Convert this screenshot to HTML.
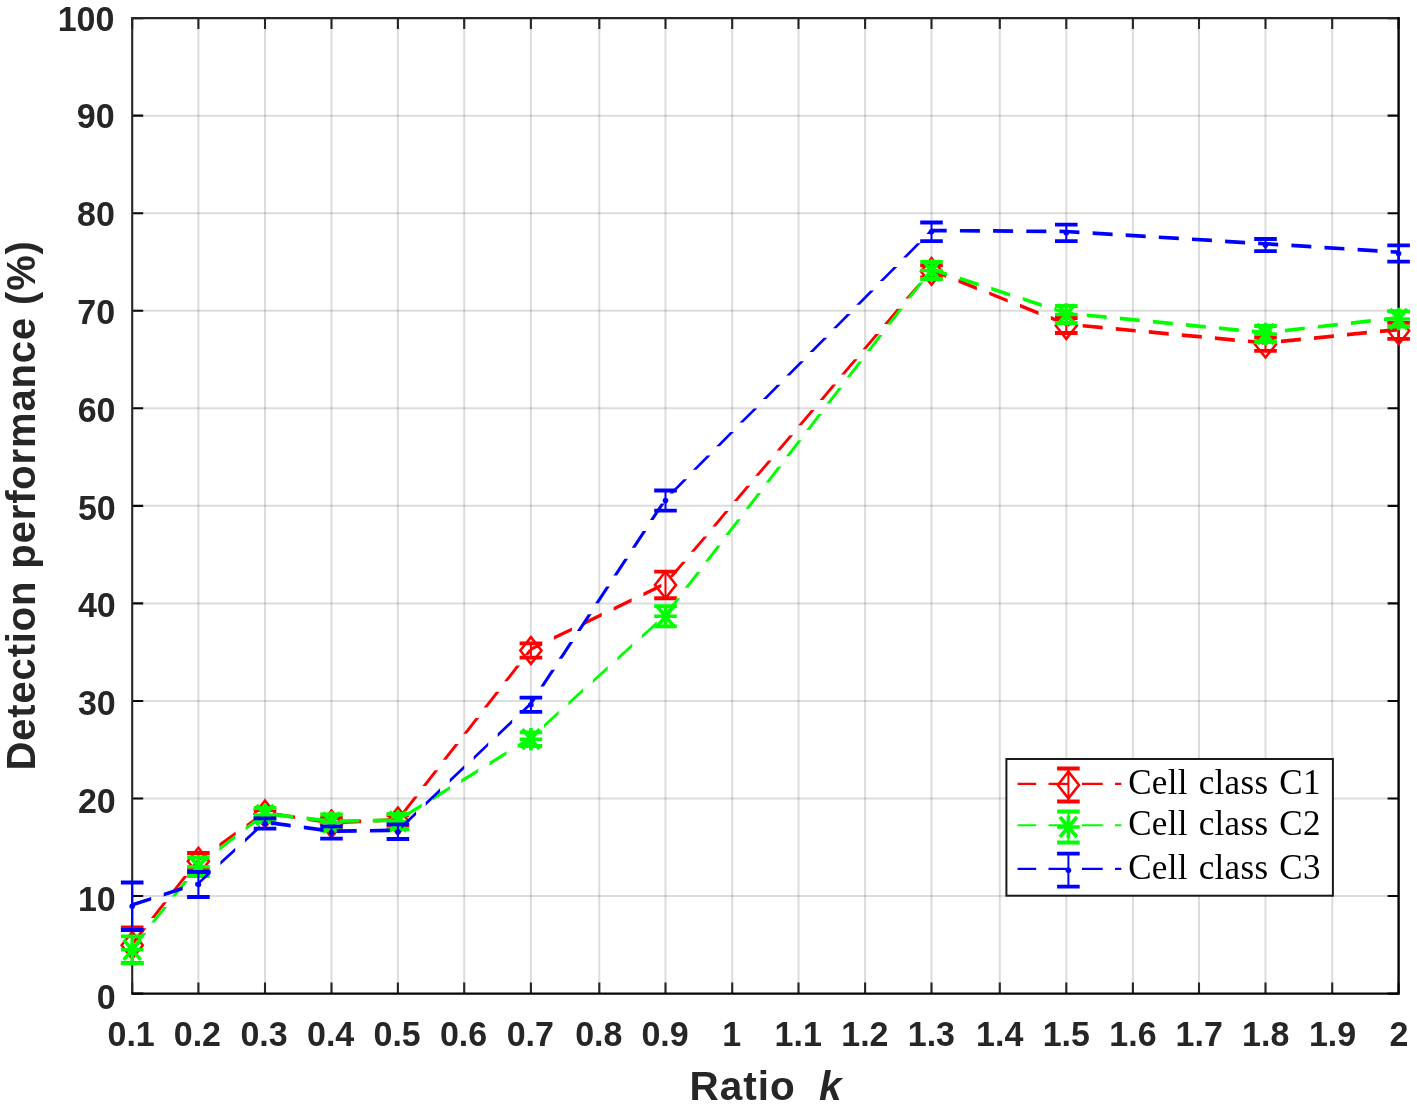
<!DOCTYPE html>
<html><head><meta charset="utf-8"><title>Detection performance vs Ratio k</title>
<style>html,body{margin:0;padding:0;background:#fff;}svg{display:block;}</style></head><body>
<svg width="1417" height="1107" viewBox="0 0 1417 1107">
<rect x="0" y="0" width="1417" height="1107" fill="#ffffff"/>
<path d="M198.40 18.10V993.60M265.00 18.10V993.60M331.50 18.10V993.60M397.90 18.10V993.60M464.20 18.10V993.60M530.90 18.10V993.60M599.30 18.10V993.60M665.50 18.10V993.60M732.20 18.10V993.60M798.50 18.10V993.60M865.10 18.10V993.60M931.50 18.10V993.60M999.80 18.10V993.60M1066.30 18.10V993.60M1132.90 18.10V993.60M1199.00 18.10V993.60M1265.50 18.10V993.60M1332.20 18.10V993.60" stroke="#262626" stroke-opacity="0.16" stroke-width="2" fill="none"/>
<path d="M132.20 896.05H1398.60M132.20 798.50H1398.60M132.20 700.95H1398.60M132.20 603.40H1398.60M132.20 505.85H1398.60M132.20 408.30H1398.60M132.20 310.75H1398.60M132.20 213.20H1398.60M132.20 115.65H1398.60" stroke="#262626" stroke-opacity="0.16" stroke-width="2" fill="none"/>
<path d="M132.20 993.60v-11M132.20 18.10v11M198.40 993.60v-11M198.40 18.10v11M265.00 993.60v-11M265.00 18.10v11M331.50 993.60v-11M331.50 18.10v11M397.90 993.60v-11M397.90 18.10v11M464.20 993.60v-11M464.20 18.10v11M530.90 993.60v-11M530.90 18.10v11M599.30 993.60v-11M599.30 18.10v11M665.50 993.60v-11M665.50 18.10v11M732.20 993.60v-11M732.20 18.10v11M798.50 993.60v-11M798.50 18.10v11M865.10 993.60v-11M865.10 18.10v11M931.50 993.60v-11M931.50 18.10v11M999.80 993.60v-11M999.80 18.10v11M1066.30 993.60v-11M1066.30 18.10v11M1132.90 993.60v-11M1132.90 18.10v11M1199.00 993.60v-11M1199.00 18.10v11M1265.50 993.60v-11M1265.50 18.10v11M1332.20 993.60v-11M1332.20 18.10v11M1398.60 993.60v-11M1398.60 18.10v11" stroke="#262626" stroke-width="2.1" fill="none"/>
<path d="M132.20 993.60h11M1398.60 993.60h-11M132.20 896.05h11M1398.60 896.05h-11M132.20 798.50h11M1398.60 798.50h-11M132.20 700.95h11M1398.60 700.95h-11M132.20 603.40h11M1398.60 603.40h-11M132.20 505.85h11M1398.60 505.85h-11M132.20 408.30h11M1398.60 408.30h-11M132.20 310.75h11M1398.60 310.75h-11M132.20 213.20h11M1398.60 213.20h-11M132.20 115.65h11M1398.60 115.65h-11M132.20 18.10h11M1398.60 18.10h-11" stroke="#080808" stroke-width="2.1" fill="none"/>
<path d="M132.20 993.60V18.10H1398.60" stroke="#262626" stroke-width="2.1" fill="none"/>
<path d="M131.20 993.60H1398.60V17.10" stroke="#050505" stroke-width="2.4" fill="none"/>
<g font-family="'Liberation Sans', Arial, Helvetica, sans-serif" font-weight="bold" font-size="34" fill="#262626">
<text transform="translate(131.12 1046) scale(1 1.045)" text-anchor="middle">0.1</text>
<text transform="translate(197.40 1046) scale(1 1.045)" text-anchor="middle">0.2</text>
<text transform="translate(264.08 1046) scale(1 1.045)" text-anchor="middle">0.3</text>
<text transform="translate(330.66 1046) scale(1 1.045)" text-anchor="middle">0.4</text>
<text transform="translate(397.13 1046) scale(1 1.045)" text-anchor="middle">0.5</text>
<text transform="translate(463.51 1046) scale(1 1.045)" text-anchor="middle">0.6</text>
<text transform="translate(530.29 1046) scale(1 1.045)" text-anchor="middle">0.7</text>
<text transform="translate(598.77 1046) scale(1 1.045)" text-anchor="middle">0.8</text>
<text transform="translate(665.04 1046) scale(1 1.045)" text-anchor="middle">0.9</text>
<text transform="translate(731.82 1046) scale(1 1.045)" text-anchor="middle">1</text>
<text transform="translate(798.20 1046) scale(1 1.045)" text-anchor="middle">1.1</text>
<text transform="translate(864.88 1046) scale(1 1.045)" text-anchor="middle">1.2</text>
<text transform="translate(931.36 1046) scale(1 1.045)" text-anchor="middle">1.3</text>
<text transform="translate(999.73 1046) scale(1 1.045)" text-anchor="middle">1.4</text>
<text transform="translate(1066.31 1046) scale(1 1.045)" text-anchor="middle">1.5</text>
<text transform="translate(1132.99 1046) scale(1 1.045)" text-anchor="middle">1.6</text>
<text transform="translate(1199.17 1046) scale(1 1.045)" text-anchor="middle">1.7</text>
<text transform="translate(1265.74 1046) scale(1 1.045)" text-anchor="middle">1.8</text>
<text transform="translate(1332.52 1046) scale(1 1.045)" text-anchor="middle">1.9</text>
<text transform="translate(1399.00 1046) scale(1 1.045)" text-anchor="middle">2</text>
<text transform="translate(115.70 1008.50) scale(1 1.045)" text-anchor="end">0</text>
<text transform="translate(115.70 910.72) scale(1 1.045)" text-anchor="end">10</text>
<text transform="translate(115.70 812.94) scale(1 1.045)" text-anchor="end">20</text>
<text transform="translate(115.70 715.16) scale(1 1.045)" text-anchor="end">30</text>
<text transform="translate(115.70 617.38) scale(1 1.045)" text-anchor="end">40</text>
<text transform="translate(115.70 519.60) scale(1 1.045)" text-anchor="end">50</text>
<text transform="translate(115.44 421.82) scale(1 1.045)" text-anchor="end">60</text>
<text transform="translate(115.18 324.04) scale(1 1.045)" text-anchor="end">70</text>
<text transform="translate(114.92 226.26) scale(1 1.045)" text-anchor="end">80</text>
<text transform="translate(114.66 128.48) scale(1 1.045)" text-anchor="end">90</text>
<text transform="translate(114.40 30.70) scale(1 1.045)" text-anchor="end">100</text>
</g>
<text x="689.5" y="1100" font-family="'Liberation Sans', Arial, Helvetica, sans-serif" font-weight="bold" font-size="40.5" letter-spacing="1" fill="#262626">Ratio</text>
<text x="819" y="1100" font-family="'Liberation Sans', Arial, Helvetica, sans-serif" font-weight="bold" font-style="italic" font-size="40.5" fill="#262626">k</text>
<text transform="translate(35.3 770.5) rotate(-90)" font-family="'Liberation Sans', Arial, Helvetica, sans-serif" font-weight="bold" font-size="40" letter-spacing="0.85" fill="#262626">Detection performance (%)</text>
<path d="M130.3 944.0L142.7 928.3L146.4 928.3L134.0 944.0ZM150.9 917.9L163.2 902.2L166.9 902.2L154.6 917.9ZM171.4 891.8L183.8 876.1L187.5 876.1L175.1 891.8ZM191.9 865.8L196.6 859.9L200.2 859.9L195.6 865.8ZM198.4 858.1L208.6 850.8L208.6 854.5L198.4 861.8ZM219.4 843.2L235.7 831.6L235.7 835.3L219.4 846.9ZM246.5 824.0L262.8 812.4L262.8 816.1L246.5 827.7ZM275.4 812.4L295.1 815.4L295.1 819.1L275.4 816.1ZM308.2 817.3L328.0 820.3L328.0 824.0L308.2 821.0ZM341.1 820.4L361.1 819.5L361.1 823.2L341.1 824.1ZM374.3 818.9L394.2 818.0L394.2 821.7L374.3 822.6ZM401.9 812.2L414.2 796.4L417.9 796.4L405.6 812.2ZM422.3 786.0L434.6 770.2L438.3 770.2L426.0 786.0ZM442.7 759.8L455.0 744.1L458.7 744.1L446.4 759.8ZM463.2 733.7L475.5 717.9L479.2 717.9L466.9 733.7ZM483.6 707.5L495.9 691.7L499.6 691.7L487.3 707.5ZM504.0 681.3L516.3 665.6L520.0 665.6L507.7 681.3ZM524.4 655.2L529.0 649.2L532.8 649.2L528.1 655.2ZM530.9 647.4L542.1 641.9L542.1 645.6L530.9 651.1ZM553.9 636.1L571.9 627.4L571.9 631.1L553.9 639.8ZM583.8 621.6L601.7 612.8L601.7 616.5L583.8 625.3ZM613.6 607.0L631.6 598.3L631.6 602.0L613.6 610.7ZM643.4 592.5L661.4 583.7L661.4 587.4L643.4 596.2ZM669.2 577.0L682.2 561.8L685.9 561.8L672.9 577.0ZM690.7 551.7L703.7 536.5L707.4 536.5L694.4 551.7ZM712.2 526.4L725.1 511.1L728.8 511.1L715.9 526.4ZM733.7 501.1L746.6 485.8L750.3 485.8L737.4 501.1ZM755.1 475.8L768.1 460.5L771.8 460.5L758.8 475.8ZM776.6 450.5L789.5 435.2L793.2 435.2L780.3 450.5ZM798.1 425.2L811.0 409.9L814.7 409.9L801.8 425.2ZM819.6 399.9L832.5 384.6L836.2 384.6L823.3 399.9ZM841.0 374.5L854.0 359.3L857.7 359.3L844.7 374.5ZM862.5 349.2L875.4 334.0L879.1 334.0L866.2 349.2ZM884.0 323.9L896.9 308.7L900.6 308.7L887.7 323.9ZM905.4 298.6L918.4 283.4L922.1 283.4L909.1 298.6ZM926.9 273.3L929.6 270.1L933.4 270.1L930.6 273.3ZM931.5 268.2L946.1 274.1L946.1 277.8L931.5 271.9ZM958.4 279.0L976.9 286.5L976.9 290.2L958.4 282.7ZM989.2 291.4L1007.7 298.9L1007.7 302.6L989.2 295.1ZM1020.0 303.8L1038.5 311.2L1038.5 314.9L1020.0 307.5ZM1050.8 316.1L1066.3 322.3L1066.3 326.1L1050.8 319.8ZM1066.3 322.3L1069.6 322.7L1069.6 326.4L1066.3 326.1ZM1082.7 323.9L1102.6 325.8L1102.6 329.5L1082.7 327.6ZM1115.8 327.0L1135.7 328.9L1135.7 332.6L1115.8 330.7ZM1148.8 330.1L1168.7 332.0L1168.7 335.7L1148.8 333.8ZM1181.8 333.2L1201.8 335.1L1201.8 338.8L1181.8 336.9ZM1214.9 336.3L1234.8 338.2L1234.8 341.9L1214.9 340.0ZM1247.9 339.4L1265.5 341.0L1265.5 344.8L1247.9 343.1ZM1265.5 341.0L1267.8 340.8L1267.8 344.5L1265.5 344.8ZM1281.0 339.5L1300.9 337.5L1300.9 341.2L1281.0 343.2ZM1314.0 336.2L1333.9 334.2L1333.9 337.9L1314.0 339.9ZM1347.0 332.8L1366.9 330.8L1366.9 334.5L1347.0 336.5ZM1380.0 329.5L1398.6 327.6L1398.6 331.4L1380.0 333.2Z" fill="#ff0000"/>
<path d="M132.20 927.50V963.10M198.40 853.00V869.40M265.00 810.00V818.00M331.50 818.00V830.00M397.90 815.00V827.00M530.90 643.35V657.65M665.50 571.55V598.25M931.50 265.40V277.40M1066.30 318.00V333.00M1265.50 337.50V350.90M1398.60 322.80V338.80" stroke="#ff0000" stroke-width="2.0" fill="none"/>
<path d="M120.90 927.50h22.60M120.90 963.10h22.60M187.10 853.00h22.60M187.10 869.40h22.60M253.70 810.00h22.60M253.70 818.00h22.60M320.20 818.00h22.60M320.20 830.00h22.60M386.60 815.00h22.60M386.60 827.00h22.60M519.60 643.35h22.60M519.60 657.65h22.60M654.20 571.55h22.60M654.20 598.25h22.60M920.20 265.40h22.60M920.20 277.40h22.60M1055.00 318.00h22.60M1055.00 333.00h22.60M1254.20 337.50h22.60M1254.20 350.90h22.60M1387.30 322.80h22.60M1387.30 338.80h22.60" stroke="#ff0000" stroke-width="3.8" fill="none"/>
<path d="M132.20 931.90L142.80 945.30L132.20 958.70L121.60 945.30Z" fill="none" stroke="#ff0000" stroke-width="2.5" stroke-miterlimit="10"/>
<path d="M198.40 847.80L209.00 861.20L198.40 874.60L187.80 861.20Z" fill="none" stroke="#ff0000" stroke-width="2.5" stroke-miterlimit="10"/>
<path d="M265.00 800.60L275.60 814.00L265.00 827.40L254.40 814.00Z" fill="none" stroke="#ff0000" stroke-width="2.5" stroke-miterlimit="10"/>
<path d="M331.50 810.60L342.10 824.00L331.50 837.40L320.90 824.00Z" fill="none" stroke="#ff0000" stroke-width="2.5" stroke-miterlimit="10"/>
<path d="M397.90 807.60L408.50 821.00L397.90 834.40L387.30 821.00Z" fill="none" stroke="#ff0000" stroke-width="2.5" stroke-miterlimit="10"/>
<path d="M530.90 637.10L541.50 650.50L530.90 663.90L520.30 650.50Z" fill="none" stroke="#ff0000" stroke-width="2.5" stroke-miterlimit="10"/>
<path d="M665.50 571.50L676.10 584.90L665.50 598.30L654.90 584.90Z" fill="none" stroke="#ff0000" stroke-width="2.5" stroke-miterlimit="10"/>
<path d="M931.50 258.00L942.10 271.40L931.50 284.80L920.90 271.40Z" fill="none" stroke="#ff0000" stroke-width="2.5" stroke-miterlimit="10"/>
<path d="M1066.30 312.10L1076.90 325.50L1066.30 338.90L1055.70 325.50Z" fill="none" stroke="#ff0000" stroke-width="2.5" stroke-miterlimit="10"/>
<path d="M1265.50 330.80L1276.10 344.20L1265.50 357.60L1254.90 344.20Z" fill="none" stroke="#ff0000" stroke-width="2.5" stroke-miterlimit="10"/>
<path d="M1398.60 317.40L1409.20 330.80L1398.60 344.20L1388.00 330.80Z" fill="none" stroke="#ff0000" stroke-width="2.5" stroke-miterlimit="10"/>
<path d="M130.3 948.5L142.8 932.9L146.5 932.9L134.0 948.5ZM151.0 922.5L163.5 906.9L167.2 906.9L154.7 922.5ZM171.7 896.6L184.2 880.9L187.9 880.9L175.4 896.6ZM192.4 870.6L196.6 865.4L200.2 865.4L196.1 870.6ZM198.4 863.6L208.9 855.4L208.9 859.1L198.4 867.3ZM219.3 847.3L235.1 835.0L235.1 838.7L219.3 851.0ZM245.6 826.9L261.4 814.7L261.4 818.4L245.6 830.6ZM273.5 812.8L293.4 815.1L293.4 818.8L273.5 816.5ZM306.5 816.5L326.4 818.8L326.4 822.5L306.5 820.2ZM339.5 819.2L359.5 818.9L359.5 822.6L339.5 822.9ZM372.7 818.7L392.7 818.4L392.7 822.1L372.7 822.4ZM404.7 814.1L421.7 803.6L421.7 807.3L404.7 817.8ZM432.9 796.7L449.9 786.1L449.9 789.8L432.9 800.4ZM461.2 779.2L478.2 768.7L478.2 772.4L461.2 782.9ZM489.4 761.7L506.4 751.2L506.4 754.9L489.4 765.4ZM517.6 744.3L530.9 736.1L530.9 739.8L517.6 748.0ZM530.9 736.1L534.1 733.1L534.1 736.8L530.9 739.8ZM543.9 724.2L558.6 710.7L558.6 714.4L543.9 727.9ZM568.4 701.8L583.1 688.3L583.1 692.0L568.4 705.5ZM592.9 679.5L607.7 666.0L607.7 669.7L592.9 683.2ZM617.4 657.1L632.2 643.6L632.2 647.3L617.4 660.8ZM641.9 634.7L656.7 621.2L656.7 624.9L641.9 638.4ZM664.4 614.0L676.6 598.2L680.3 598.2L668.1 614.0ZM684.6 587.7L696.8 571.9L700.5 571.9L688.3 587.7ZM704.9 561.4L717.1 545.5L720.8 545.5L708.6 561.4ZM725.1 535.1L737.3 519.2L741.0 519.2L728.8 535.1ZM745.4 508.8L757.5 492.9L761.2 492.9L749.1 508.8ZM765.6 482.5L777.8 466.6L781.5 466.6L769.3 482.5ZM785.8 456.2L798.0 440.3L801.7 440.3L789.5 456.2ZM806.1 429.9L818.3 414.0L822.0 414.0L809.8 429.9ZM826.3 403.6L838.5 387.7L842.2 387.7L830.0 403.6ZM846.5 377.3L858.7 361.4L862.4 361.4L850.2 377.3ZM866.8 350.9L879.0 335.1L882.7 335.1L870.5 350.9ZM887.0 324.6L899.2 308.8L902.9 308.8L890.7 324.6ZM907.2 298.3L919.4 282.5L923.1 282.5L910.9 298.3ZM927.5 272.0L929.6 269.2L933.4 269.2L931.2 272.0ZM931.5 267.3L947.1 272.5L947.1 276.2L931.5 271.1ZM959.7 276.5L978.7 282.7L978.7 286.4L959.7 280.2ZM991.2 286.8L1010.2 293.0L1010.2 296.7L991.2 290.5ZM1022.8 297.1L1041.8 303.3L1041.8 307.0L1022.8 300.8ZM1054.3 307.4L1066.3 311.3L1066.3 315.1L1054.3 311.1ZM1066.3 311.3L1073.7 312.1L1073.7 315.8L1066.3 315.1ZM1086.8 313.4L1106.7 315.3L1106.7 319.0L1086.8 317.1ZM1119.8 316.6L1139.7 318.5L1139.7 322.2L1119.8 320.3ZM1152.9 319.8L1172.8 321.8L1172.8 325.5L1152.9 323.5ZM1185.9 323.1L1205.8 325.0L1205.8 328.7L1185.9 326.8ZM1218.9 326.3L1238.8 328.2L1238.8 331.9L1218.9 330.0ZM1252.0 329.5L1265.5 330.8L1265.5 334.6L1252.0 333.2ZM1265.5 330.8L1271.8 330.1L1271.8 333.8L1265.5 334.6ZM1285.0 328.7L1304.8 326.4L1304.8 330.1L1285.0 332.4ZM1317.9 324.9L1337.8 322.7L1337.8 326.4L1317.9 328.6ZM1350.9 321.2L1370.8 319.0L1370.8 322.7L1350.9 324.9ZM1383.9 317.5L1398.6 315.8L1398.6 319.6L1383.9 321.2Z" fill="#00ff00"/>
<path d="M132.20 936.35V963.25M198.40 857.40V876.00M265.00 808.00V822.00M331.50 814.50V830.50M397.90 814.00V829.00M530.90 732.40V746.00M665.50 606.20V626.40M931.50 262.00V279.00M1066.30 306.00V323.00M1265.50 326.00V342.00M1398.60 311.40V326.60" stroke="#00ff00" stroke-width="2.0" fill="none"/>
<path d="M120.90 936.35h22.60M120.90 963.25h22.60M187.10 857.40h22.60M187.10 876.00h22.60M253.70 808.00h22.60M253.70 822.00h22.60M320.20 814.50h22.60M320.20 830.50h22.60M386.60 814.00h22.60M386.60 829.00h22.60M519.60 732.40h22.60M519.60 746.00h22.60M654.20 606.20h22.60M654.20 626.40h22.60M920.20 262.00h22.60M920.20 279.00h22.60M1055.00 306.00h22.60M1055.00 323.00h22.60M1254.20 326.00h22.60M1254.20 342.00h22.60M1387.30 311.40h22.60M1387.30 326.60h22.60" stroke="#00ff00" stroke-width="3.8" fill="none"/>
<path d="M120.90 949.80h22.6M132.20 938.50v22.6M123.70 939.80l17.00 20.00M123.70 959.80l17.00 -20.00" fill="none" stroke="#00ff00" stroke-width="3.6"/>
<path d="M187.10 866.70h22.6M198.40 855.40v22.6M189.90 856.70l17.00 20.00M189.90 876.70l17.00 -20.00" fill="none" stroke="#00ff00" stroke-width="3.6"/>
<path d="M253.70 815.00h22.6M265.00 803.70v22.6M256.50 805.00l17.00 20.00M256.50 825.00l17.00 -20.00" fill="none" stroke="#00ff00" stroke-width="3.6"/>
<path d="M320.20 822.50h22.6M331.50 811.20v22.6M323.00 812.50l17.00 20.00M323.00 832.50l17.00 -20.00" fill="none" stroke="#00ff00" stroke-width="3.6"/>
<path d="M386.60 821.50h22.6M397.90 810.20v22.6M389.40 811.50l17.00 20.00M389.40 831.50l17.00 -20.00" fill="none" stroke="#00ff00" stroke-width="3.6"/>
<path d="M519.60 739.20h22.6M530.90 727.90v22.6M522.40 729.20l17.00 20.00M522.40 749.20l17.00 -20.00" fill="none" stroke="#00ff00" stroke-width="3.6"/>
<path d="M654.20 616.30h22.6M665.50 605.00v22.6M657.00 606.30l17.00 20.00M657.00 626.30l17.00 -20.00" fill="none" stroke="#00ff00" stroke-width="3.6"/>
<path d="M920.20 270.50h22.6M931.50 259.20v22.6M923.00 260.50l17.00 20.00M923.00 280.50l17.00 -20.00" fill="none" stroke="#00ff00" stroke-width="3.6"/>
<path d="M1055.00 314.50h22.6M1066.30 303.20v22.6M1057.80 304.50l17.00 20.00M1057.80 324.50l17.00 -20.00" fill="none" stroke="#00ff00" stroke-width="3.6"/>
<path d="M1254.20 334.00h22.6M1265.50 322.70v22.6M1257.00 324.00l17.00 20.00M1257.00 344.00l17.00 -20.00" fill="none" stroke="#00ff00" stroke-width="3.6"/>
<path d="M1387.30 319.00h22.6M1398.60 307.70v22.6M1390.10 309.00l17.00 20.00M1390.10 329.00l17.00 -20.00" fill="none" stroke="#00ff00" stroke-width="3.6"/>
<path d="M132.2 903.1L151.2 896.9L151.2 900.6L132.2 906.8ZM163.7 892.7L182.7 886.5L182.7 890.2L163.7 896.4ZM195.3 882.4L198.4 881.4L198.4 885.1L195.3 886.1ZM198.4 881.4L210.7 870.1L210.7 873.8L198.4 885.1ZM220.4 861.2L235.2 847.7L235.2 851.4L220.4 864.9ZM244.9 838.7L259.7 825.2L259.7 828.9L244.9 842.4ZM270.9 821.1L290.7 823.8L290.7 827.5L270.9 824.8ZM303.8 825.6L323.6 828.3L323.6 832.0L303.8 829.3ZM336.7 829.3L356.7 829.0L356.7 832.7L336.7 833.0ZM369.9 828.9L389.9 828.6L389.9 832.3L369.9 832.6ZM401.7 825.0L416.1 811.2L416.1 814.9L401.7 828.7ZM425.7 802.0L440.1 788.2L440.1 791.9L425.7 805.7ZM449.7 779.1L464.2 765.3L464.2 769.0L449.7 782.8ZM473.7 756.2L488.2 742.4L488.2 746.1L473.7 759.9ZM497.7 733.3L512.2 719.5L512.2 723.2L497.7 737.0ZM521.7 710.4L530.9 701.6L530.9 705.4L521.7 714.1ZM529.0 703.5L533.1 697.4L536.8 697.4L532.8 703.5ZM540.3 686.4L551.3 669.7L555.0 669.7L544.0 686.4ZM558.6 658.7L569.6 642.0L573.3 642.0L562.3 658.7ZM576.9 630.9L587.9 614.2L591.6 614.2L580.6 630.9ZM595.1 603.2L606.1 586.5L609.8 586.5L598.8 603.2ZM613.4 575.5L624.4 558.8L628.1 558.8L617.1 575.5ZM631.7 547.8L642.7 531.1L646.4 531.1L635.4 547.8ZM649.9 520.1L660.9 503.4L664.6 503.4L653.6 520.1ZM669.5 493.4L683.5 479.2L687.2 479.2L673.2 493.4ZM692.8 469.8L706.9 455.6L710.6 455.6L696.5 469.8ZM716.2 446.2L730.2 432.0L733.9 432.0L719.9 446.2ZM739.5 422.6L753.6 408.4L757.3 408.4L743.2 422.6ZM762.9 399.1L776.9 384.8L780.6 384.8L766.6 399.1ZM786.2 375.5L800.3 361.2L804.0 361.2L789.9 375.5ZM809.5 351.9L823.6 337.7L827.3 337.7L813.2 351.9ZM832.9 328.3L847.0 314.1L850.7 314.1L836.6 328.3ZM856.2 304.7L870.3 290.5L874.0 290.5L859.9 304.7ZM879.6 281.1L893.6 266.9L897.3 266.9L883.3 281.1ZM902.9 257.5L917.0 243.3L920.7 243.3L906.6 257.5ZM926.3 233.9L929.6 230.5L933.4 230.5L930.0 233.9ZM931.5 228.7L946.7 228.8L946.7 232.5L931.5 232.3ZM959.9 228.9L979.9 229.0L979.9 232.7L959.9 232.6ZM993.1 229.1L1013.1 229.3L1013.1 233.0L993.1 232.8ZM1026.3 229.4L1046.3 229.5L1046.3 233.2L1026.3 233.1ZM1059.5 229.6L1066.3 229.7L1066.3 233.3L1059.5 233.3ZM1066.3 229.7L1079.4 230.5L1079.4 234.2L1066.3 233.3ZM1092.6 231.3L1112.6 232.5L1112.6 236.2L1092.6 235.0ZM1125.7 233.3L1145.7 234.6L1145.7 238.3L1125.7 237.0ZM1158.8 235.4L1178.8 236.6L1178.8 240.3L1158.8 239.1ZM1192.0 237.4L1211.9 238.6L1211.9 242.3L1192.0 241.1ZM1225.1 239.5L1245.1 240.7L1245.1 244.4L1225.1 243.2ZM1258.2 241.5L1265.5 241.9L1265.5 245.6L1258.2 245.2ZM1265.5 241.9L1278.2 242.8L1278.2 246.5L1265.5 245.6ZM1291.4 243.6L1311.3 244.8L1311.3 248.5L1291.4 247.3ZM1324.5 245.7L1344.4 246.9L1344.4 250.6L1324.5 249.4ZM1357.6 247.8L1377.6 249.0L1377.6 252.7L1357.6 251.5ZM1390.7 249.9L1398.6 250.3L1398.6 254.0L1390.7 253.6Z" fill="#0000ff"/>
<path d="M132.20 882.50V930.00M198.40 872.00V897.00M265.00 818.30V828.70M331.50 826.30V838.70M397.90 824.40V839.00M530.90 697.70V711.90M665.50 490.50V510.70M931.50 222.50V241.10M1066.30 224.55V241.05M1265.50 239.00V251.20M1398.60 245.30V261.70" stroke="#0000ff" stroke-width="2.0" fill="none"/>
<path d="M120.90 882.50h22.60M120.90 930.00h22.60M187.10 872.00h22.60M187.10 897.00h22.60M253.70 818.30h22.60M253.70 828.70h22.60M320.20 826.30h22.60M320.20 838.70h22.60M386.60 824.40h22.60M386.60 839.00h22.60M519.60 697.70h22.60M519.60 711.90h22.60M654.20 490.50h22.60M654.20 510.70h22.60M920.20 222.50h22.60M920.20 241.10h22.60M1055.00 224.55h22.60M1055.00 241.05h22.60M1254.20 239.00h22.60M1254.20 251.20h22.60M1387.30 245.30h22.60M1387.30 261.70h22.60" stroke="#0000ff" stroke-width="3.8" fill="none"/>
<circle cx="132.20" cy="906.25" r="2.8" fill="#0000ff"/>
<circle cx="198.40" cy="884.50" r="2.8" fill="#0000ff"/>
<circle cx="265.00" cy="823.50" r="2.8" fill="#0000ff"/>
<circle cx="331.50" cy="832.50" r="2.8" fill="#0000ff"/>
<circle cx="397.90" cy="831.70" r="2.8" fill="#0000ff"/>
<circle cx="530.90" cy="704.80" r="2.8" fill="#0000ff"/>
<circle cx="665.50" cy="500.60" r="2.8" fill="#0000ff"/>
<circle cx="931.50" cy="231.80" r="2.8" fill="#0000ff"/>
<circle cx="1066.30" cy="232.80" r="2.8" fill="#0000ff"/>
<circle cx="1265.50" cy="245.10" r="2.8" fill="#0000ff"/>
<circle cx="1398.60" cy="253.50" r="2.8" fill="#0000ff"/>
<rect x="1006.4" y="759.0" width="326.5" height="136.7" fill="#ffffff" stroke="#1a1a1a" stroke-width="2"/>
<path d="M1017.6 783.85H1036.2M1048.5 783.85H1068.4M1082 783.85H1102.7M1115 783.85H1121.3" stroke="#ff0000" stroke-width="2.1" fill="none"/>
<path d="M1068.4 768.50V801.50" stroke="#ff0000" stroke-width="2.0" fill="none"/>
<path d="M1057.10 768.50h22.60M1057.10 801.50h22.60" stroke="#ff0000" stroke-width="3.8" fill="none"/>
<path d="M1068.40 771.60L1079.00 785.00L1068.40 798.40L1057.80 785.00Z" fill="none" stroke="#ff0000" stroke-width="2.5" stroke-miterlimit="10"/>
<text x="1128.2" y="793.6" font-family="'Liberation Serif', 'Times New Roman', serif" font-size="35" word-spacing="2" letter-spacing="0.3" fill="#000">Cell class C1</text>
<path d="M1017.6 825.3H1036.2M1048.5 825.3H1068.4M1082 825.3H1102.7M1115 825.3H1121.3" stroke="#00ff00" stroke-width="2.1" fill="none"/>
<path d="M1068.4 811.50V842.50" stroke="#00ff00" stroke-width="2.0" fill="none"/>
<path d="M1057.10 811.50h22.60M1057.10 842.50h22.60" stroke="#00ff00" stroke-width="3.8" fill="none"/>
<path d="M1057.10 827.00h22.6M1068.40 815.70v22.6M1059.90 817.00l17.00 20.00M1059.90 837.00l17.00 -20.00" fill="none" stroke="#00ff00" stroke-width="3.6"/>
<text x="1128.2" y="835.0" font-family="'Liberation Serif', 'Times New Roman', serif" font-size="35" word-spacing="2" letter-spacing="0.3" fill="#000">Cell class C2</text>
<path d="M1017.6 868.9H1036.2M1048.5 868.9H1068.4M1082 868.9H1102.7M1115 868.9H1121.3" stroke="#0000ff" stroke-width="2.1" fill="none"/>
<path d="M1068.4 853.70V886.70" stroke="#0000ff" stroke-width="2.0" fill="none"/>
<path d="M1057.10 853.70h22.60M1057.10 886.70h22.60" stroke="#0000ff" stroke-width="3.8" fill="none"/>
<circle cx="1068.40" cy="870.20" r="2.8" fill="#0000ff"/>
<text x="1128.2" y="878.6" font-family="'Liberation Serif', 'Times New Roman', serif" font-size="35" word-spacing="2" letter-spacing="0.3" fill="#000">Cell class C3</text>
</svg>
</body></html>
